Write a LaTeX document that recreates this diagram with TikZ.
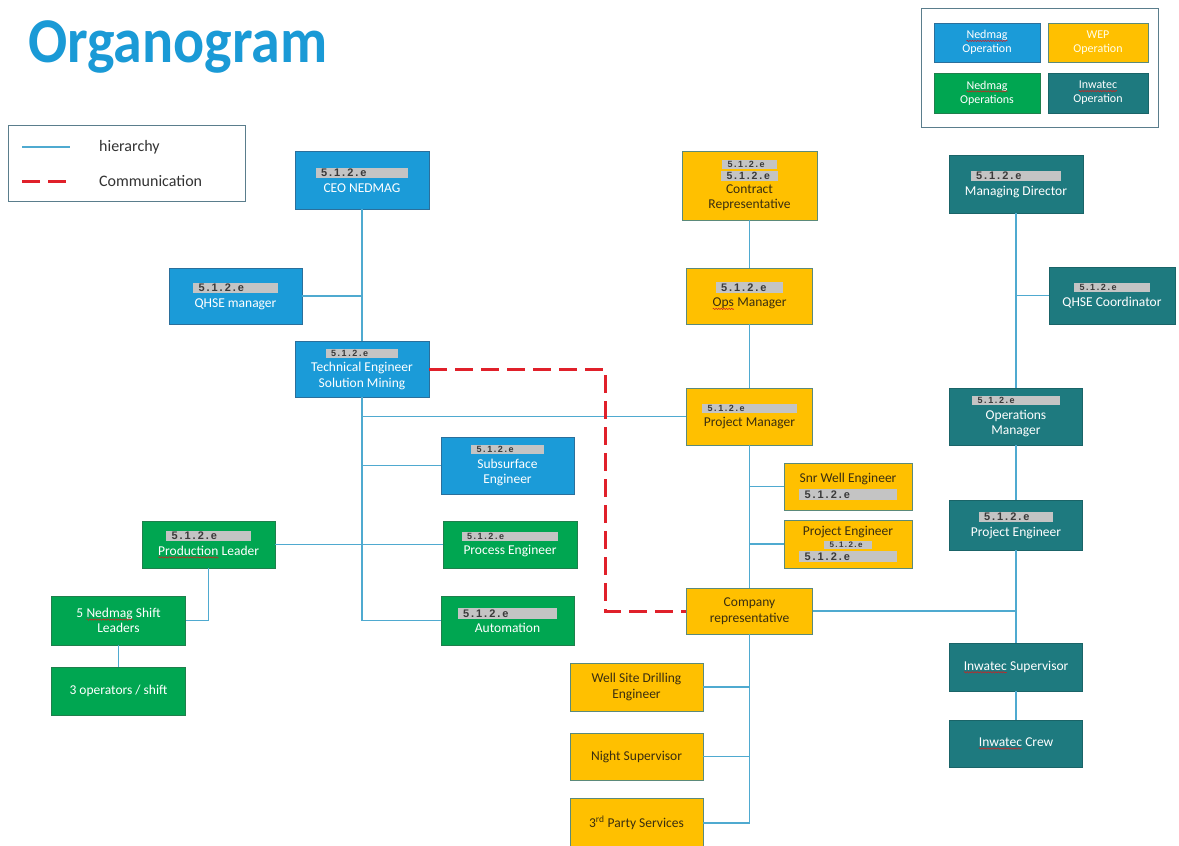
\documentclass[tikz,border=0pt]{standalone}
\usepackage{fontspec}
\setmainfont{Carlito}
\newfontfamily\labfont[LetterSpace=18]{Liberation Sans Bold}
\usetikzlibrary{decorations.pathmorphing}
\definecolor{titleblue}{HTML}{1A9AD6}
\definecolor{nblue}{HTML}{1B9BD8}
\definecolor{nbluebd}{HTML}{2B6F9B}
\definecolor{wyel}{HTML}{FFC000}
\definecolor{wyelbd}{HTML}{5B8A7A}
\definecolor{ngreen}{HTML}{00A651}
\definecolor{ngreenbd}{HTML}{1F7F4C}
\definecolor{iteal}{HTML}{1E7A7F}
\definecolor{itealbd}{HTML}{1A6468}
\definecolor{hiercol}{HTML}{4FAAD0}
\definecolor{commred}{HTML}{E0202A}
\definecolor{labgray}{HTML}{C4C4C4}
\definecolor{labtext}{HTML}{3A3A3A}
\definecolor{darktext}{HTML}{333333}
\definecolor{yeltext}{HTML}{3A2E10}
\definecolor{legbord}{HTML}{5A7D8C}
\definecolor{sqred}{HTML}{D02020}
\newcommand\sq[1]{\tikz[baseline=(w.base),x=1pt,y=1pt]{\node[inner sep=0pt,outer sep=0pt,minimum width=0pt,minimum height=0pt,draw=none,fill=none] (w) {#1};\draw[sqred, line width=0.5pt, decorate, decoration={snake, amplitude=0.7pt, segment length=2.6pt}] ([yshift=-2.2pt]w.base west) -- ([yshift=-2.2pt]w.base east);}}
\newcommand\graylab[2]{{\setlength{\fboxsep}{1.3pt}\colorbox{labgray}{\makebox[#1pt][l]{\hspace{4pt}\labfont\fontsize{#2}{#2}\selectfont\textcolor{labtext}{5.1.2.e}}}}}
\tikzset{
  bx/.style={line width=0.9pt, align=center, inner sep=1pt, font=\fontsize{13.5}{15.5}\selectfont},
  nb/.style={bx, draw=nbluebd, fill=nblue, text=white},
  wy/.style={bx, draw=wyelbd, fill=wyel, text=yeltext},
  ng/.style={bx, draw=ngreenbd, fill=ngreen, text=white},
  it/.style={bx, draw=itealbd, fill=iteal, text=white},
  hier/.style={draw=hiercol, line width=1.4pt},
  comm/.style={draw=commred, line width=3pt, dash pattern=on 18pt off 8pt},
  legtext/.style={anchor=west, inner sep=0, text=darktext, font=\fontsize{16}{18}\selectfont},
  lg/.style={line width=0.8pt, align=center, inner sep=1pt, font=\fontsize{12}{14}\selectfont}
}
\begin{document}
\begin{tikzpicture}[x=1pt,y=-1pt]
\clip (0,0) rectangle (1179,846);
\fill[white] (0,0) rectangle (1179,846);

% title
\node[anchor=base west, inner sep=0, text=titleblue, font=\fontsize{58}{60}\selectfont\bfseries] (title) at (28,62) {\scalebox{1}[1.1]{Organogram}};

% legend left
\node[draw=legbord, line width=1pt, minimum width=237pt, minimum height=76pt, inner sep=0] (leg) at (126.5,163) {};
\coordinate (h1) at (22,147);
\coordinate (h2) at (70,147);
\draw[hier] (h1) -- (h2);
\coordinate (r1) at (22,181);
\coordinate (r2) at (66,181);
\draw[comm] (r1) -- (r2);
\node[legtext] (lh) at (99,147) {hierarchy};
\node[legtext] (lc) at (99,181) {Communication};

% legend right
\node[draw=legbord, line width=1pt, minimum width=237pt, minimum height=119pt, inner sep=0] (leg2) at (1039.5,67.5) {};
\node[lg, draw=nbluebd, fill=nblue, text=white, minimum width=106pt, minimum height=39pt] (lb1) at (987,42.5) {\sq{Nedmag}\\Operation};
\node[lg, draw=wyelbd, fill=wyel, text=white!92!yellow, minimum width=100pt, minimum height=39pt] (lb2) at (1098,42.5) {WEP\\Operation};
\node[lg, draw=ngreenbd, fill=ngreen, text=white, minimum width=106pt, minimum height=40pt] (lb3) at (987,93) {\sq{Nedmag}\\Operations};
\node[lg, draw=itealbd, fill=iteal, text=white, minimum width=100pt, minimum height=40pt] (lb4) at (1098,93) {\sq{Inwatec}\\Operation};

% Nedmag blue
\node[nb, minimum width=134pt, minimum height=58pt] (ceo) at (362,180) {\graylab{90}{11}\\CEO NEDMAG};
\node[nb, minimum width=133pt, minimum height=56pt] (qhse) at (235.5,296) {\graylab{82}{11}\\QHSE manager};
\node[nb, minimum width=134pt, minimum height=56pt] (tech) at (362,369) {\graylab{70}{9}\\Technical Engineer\\Solution Mining};
\node[nb, minimum width=133pt, minimum height=57pt] (subs) at (507.5,465.5) {\graylab{70}{9}\\Subsurface\\Engineer};

% Nedmag green
\node[ng, minimum width=134pt, minimum height=47pt] (proc) at (510,544.5) {\graylab{94}{9}\\Process Engineer};
\node[ng, minimum width=133pt, minimum height=49pt] (auto) at (507.5,620.5) {\graylab{97}{11}\\Automation};
\node[ng, minimum width=133pt, minimum height=47pt] (prod) at (208.5,544.5) {\graylab{82}{11}\\\sq{Production} Leader};
\node[ng, minimum width=134pt, minimum height=49pt] (shift) at (118.5,620.5) {5 \sq{Nedmag} Shift\\Leaders};
\node[ng, minimum width=134pt, minimum height=48pt] (opsh) at (118.5,691) {3 operators / shift};

% WEP yellow
\node[wy, minimum width=135pt, minimum height=69pt] (contract) at (749.5,185.5) {\graylab{52}{9}\\[-3pt]\graylab{54}{10.5}\\[-2pt]Contract\\Representative};
\node[wy, minimum width=126pt, minimum height=56pt] (opsm) at (749.5,296) {\graylab{65}{11}\\\sq{Ops} Manager};
\node[wy, minimum width=126pt, minimum height=57pt] (pm) at (749.5,416.5) {\graylab{92}{9}\\Project Manager};
\node[wy, minimum width=128pt, minimum height=47pt] (snr) at (848,486.5) {Snr Well Engineer\\\graylab{95}{11}};
\node[wy, minimum width=128pt, minimum height=48pt] (pe) at (848,544) {Project Engineer\\[-3pt]\graylab{45}{8}\\[-3pt]\graylab{95}{11}};
\node[wy, minimum width=126pt, minimum height=46pt] (comp) at (749.5,611) {Company\\representative};
\node[wy, minimum width=133pt, minimum height=48pt] (wsde) at (636.5,687) {Well Site Drilling\\Engineer};
\node[wy, minimum width=133pt, minimum height=47pt] (night) at (636.5,756.5) {Night Supervisor};
\node[wy, minimum width=133pt, minimum height=50pt] (third) at (636.5,823) {3\textsuperscript{rd} Party Services};

% Inwatec teal
\node[it, minimum width=134pt, minimum height=58pt] (md) at (1016,184) {\graylab{88}{11}\\Managing Director};
\node[it, minimum width=126pt, minimum height=57pt] (qc) at (1112,295.5) {\graylab{73}{9}\\QHSE Coordinator};
\node[it, minimum width=133pt, minimum height=57pt] (om) at (1016,416.5) {\graylab{85}{9}\\Operations\\Manager};
\node[it, minimum width=133pt, minimum height=50pt] (tpe) at (1016,525) {\graylab{72}{11}\\Project Engineer};
\node[it, minimum width=133pt, minimum height=48pt] (isup) at (1016,667) {\sq{Inwatec} Supervisor};
\node[it, minimum width=133pt, minimum height=47pt] (icrew) at (1016,743.5) {\sq{Inwatec} Crew};

% hierarchy connectors - Nedmag
\draw[hier] (ceo.south) -- (tech.north);
\draw[hier] (qhse.east) -- (qhse.east -| ceo.south);
\draw[hier] (tech.south) -- (tech.south |- auto.west) -- (auto.west);
\draw[hier] (tech.south |- pm.west) -- (pm.west);
\draw[hier] (tech.south |- subs.west) -- (subs.west);
\draw[hier] (prod.east) -- (proc.west);
\draw[hier] (prod.south) -- (prod.south |- shift.east) -- (shift.east);
\draw[hier] (shift.south) -- (opsh.north);

% hierarchy connectors - WEP
\draw[hier] (contract.south) -- (opsm.north);
\draw[hier] (opsm.south) -- (pm.north);
\draw[hier] (pm.south) -- (comp.north);
\draw[hier] (pm.south |- snr.west) -- (snr.west);
\draw[hier] (pm.south |- pe.west) -- (pe.west);
\draw[hier] (comp.south) -- (comp.south |- third.east) -- (third.east);
\draw[hier] (comp.south |- wsde.east) -- (wsde.east);
\draw[hier] (comp.south |- night.east) -- (night.east);
\draw[hier] (comp.east) -- (comp.east -| om.south);

% hierarchy connectors - Inwatec
\draw[hier] (md.south) -- (om.north);
\draw[hier] (md.south |- qc.west) -- (qc.west);
\draw[hier] (om.south) -- (tpe.north);
\draw[hier] (tpe.south) -- (isup.north);
\draw[hier] (isup.south) -- (icrew.north);

% communication
\coordinate (cc) at (605,369);
\draw[comm] (tech.east) -- (cc) -- (cc |- comp.west) -- (comp.west);
\end{tikzpicture}
\end{document}
